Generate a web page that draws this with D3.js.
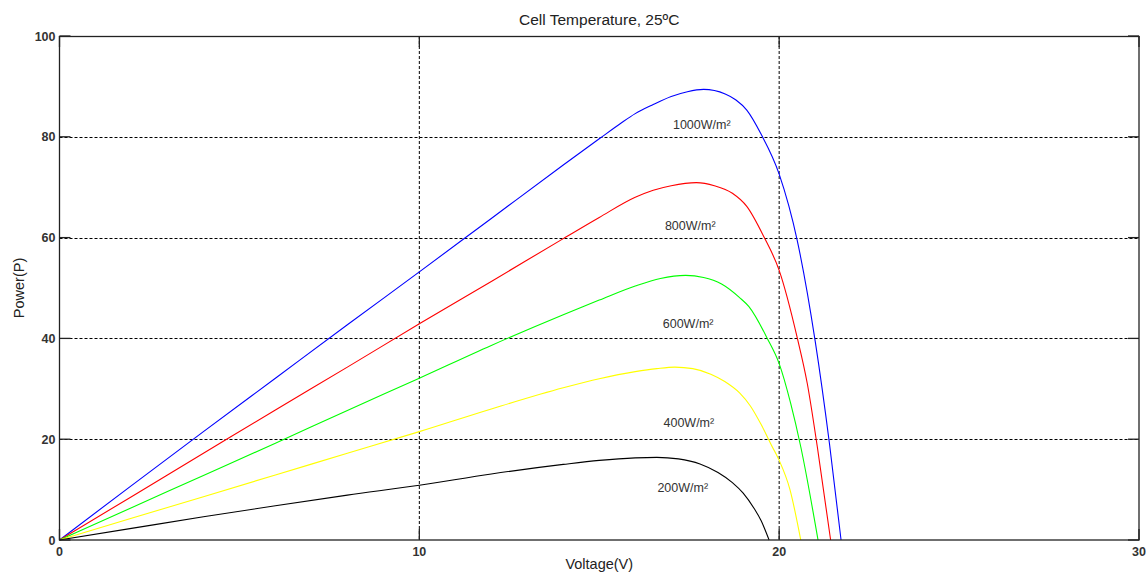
<!DOCTYPE html>
<html>
<head>
<meta charset="utf-8">
<script src="https://cdn.jsdelivr.net/npm/d3@7"></script>
<style>
  html, body { margin: 0; padding: 0; background: #fff; }
  svg { display: block; }
  text { font-family: "Liberation Sans", Arial, sans-serif; }
</style>
</head>
<body>
<svg id="chart" width="1146" height="579"></svg>
<script>
// ---- data ----
const title = "Cell Temperature, 25ºC";
const xLabel = "Voltage(V)";
const yLabel = "Power(P)";
const xTicks = [0, 10, 20, 30];
const yTicks = [0, 20, 40, 60, 80, 100];
const seriesNames = ["1000W/m²", "800W/m²", "600W/m²", "400W/m²", "200W/m²"];
const seriesColors = ["#0000ff", "#ff0000", "#00ff00", "#ffff00", "#000000"];

const volts1000 = [0, 2, 4, 6, 8, 10, 12, 14, 15, 15.6, 16, 16.5, 17, 17.45, 17.9, 18.5, 18.8, 19.1, 19.5, 20.0, 20.5, 21.0, 21.4, 21.72];
const power1000 = [0, 10.8, 21.5, 32.1, 42.7, 53.2, 63.8, 74.4, 79.6, 82.7, 84.6, 86.4, 88.0, 88.95, 89.4, 88.5, 87.3, 85.3, 80.5, 72.6, 59.5, 39.5, 19.0, 0];

const volts800 = [0, 2, 4, 6, 8, 10, 12, 14, 15, 16, 16.5, 17, 17.7, 18.2, 18.7, 19.1, 19.58, 20.0, 20.5, 20.78, 21.06, 21.43];
const power800 = [0, 8.6, 17.2, 25.8, 34.3, 42.9, 51.3, 59.8, 64.0, 68.0, 69.4, 70.3, 70.9, 70.3, 68.8, 66.2, 60.1, 53.5, 40.2, 31.1, 18.5, 0];

const volts600 = [0, 2, 4, 6, 8, 10, 12, 14, 15, 16, 16.7, 17.4, 17.9, 18.4, 18.9, 19.16, 19.67, 20.0, 20.32, 20.6, 21.08];
const power600 = [0, 6.4, 12.8, 19.2, 25.7, 32.1, 38.6, 44.7, 47.6, 50.4, 51.9, 52.5, 52.1, 50.8, 48.1, 46.3, 40.0, 35.0, 27.1, 18.5, 0];

const volts400 = [0, 2, 4, 6, 8, 10, 12, 14, 15, 16, 16.6, 17.1, 17.6, 18.1, 18.5, 18.9, 19.2, 19.5, 19.8, 20.0, 20.3, 20.6];
const power400 = [0, 4.3, 8.6, 12.9, 17.2, 21.5, 26.0, 30.2, 32.0, 33.4, 34.0, 34.3, 34.0, 32.9, 31.4, 29.2, 26.6, 22.9, 18.6, 15.8, 10.0, 0];

const volts200 = [0, 2, 4, 6, 8, 10, 12, 14, 15, 16, 16.6, 17.2, 17.8, 18.3, 18.7, 19.0, 19.3, 19.5, 19.72];
const power200 = [0, 2.3, 4.6, 6.8, 8.9, 10.85, 13.1, 15.0, 15.8, 16.3, 16.4, 16.1, 15.1, 13.4, 11.4, 9.3, 6.3, 3.8, 0];

// label anchor points (data units)
const labelVolts = [17.85, 17.53, 17.47, 17.49, 17.32];
const labelPower = [81.5, 61.5, 42.1, 22.5, 9.6];

const seriesVolts = [volts1000, volts800, volts600, volts400, volts200];
const seriesPower = [power1000, power800, power600, power400, power200];

// ---- layout ----
const svg = d3.select("#chart");
const mLeft = 59.5, mRight = 1139, mTop = 36, mBottom = 540;
const x = d3.scaleLinear().domain([0, 30]).range([mLeft, mRight]);
const y = d3.scaleLinear().domain([0, 100]).range([mBottom, mTop]);
const tickLen = 11;

// grid
const grid = svg.append("g");
grid.selectAll("line.gx").data(xTicks.filter(d => d > 0 && d < 30)).join("line")
  .attr("x1", d => x(d)).attr("x2", d => x(d))
  .attr("y1", mTop).attr("y2", mBottom)
  .attr("stroke", "#000").attr("stroke-width", 1).attr("stroke-dasharray", "3,2");
grid.selectAll("line.gy").data(yTicks.filter(d => d > 0 && d < 100)).join("line")
  .attr("x1", mLeft).attr("x2", mRight)
  .attr("y1", d => Math.round(y(d)) + 0.5).attr("y2", d => Math.round(y(d)) + 0.5)
  .attr("stroke", "#000").attr("stroke-width", 1).attr("stroke-dasharray", "3,2");

// curves
const line = d3.line().x(d => x(d[0])).y(d => y(d[1])).curve(d3.curveMonotoneX);
seriesNames.forEach((name, i) => {
  const pts = seriesVolts[i].map((v, k) => [v, seriesPower[i][k]]);
  svg.append("path").datum(pts)
    .attr("d", line)
    .attr("fill", "none")
    .attr("stroke", seriesColors[i])
    .attr("stroke-width", 1.1);
});

// labels
svg.selectAll("text.lbl").data(seriesNames).join("text")
  .attr("class", "lbl")
  .attr("x", (d, i) => x(labelVolts[i]))
  .attr("y", (d, i) => y(labelPower[i]))
  .attr("text-anchor", "middle")
  .attr("font-size", "12.5px")
  .attr("fill", "#333")
  .text(d => d);

// box
svg.append("rect")
  .attr("x", mLeft).attr("y", mTop + 0.5)
  .attr("width", mRight - mLeft).attr("height", mBottom - mTop - 0.5)
  .attr("fill", "none").attr("stroke", "#222").attr("stroke-width", 1.3);

// ticks (inside, all four sides)
const ticks = svg.append("g").attr("stroke", "#222").attr("stroke-width", 1.3);
xTicks.forEach(t => {
  ticks.append("line").attr("x1", x(t)).attr("x2", x(t)).attr("y1", mBottom).attr("y2", mBottom - tickLen);
  ticks.append("line").attr("x1", x(t)).attr("x2", x(t)).attr("y1", mTop).attr("y2", mTop + tickLen);
});
yTicks.forEach(t => {
  ticks.append("line").attr("x1", mLeft).attr("x2", mLeft + tickLen).attr("y1", y(t)).attr("y2", y(t));
  ticks.append("line").attr("x1", mRight).attr("x2", mRight - tickLen).attr("y1", y(t)).attr("y2", y(t));
});

// tick labels
svg.selectAll("text.xt").data(xTicks).join("text")
  .attr("class", "xt")
  .attr("x", d => x(d)).attr("y", 556)
  .attr("text-anchor", "middle")
  .attr("font-size", "12.5px").attr("font-weight", "bold").attr("fill", "#333")
  .text(d => d);
svg.selectAll("text.yt").data(yTicks).join("text")
  .attr("class", "yt")
  .attr("x", mLeft - 4).attr("y", d => y(d))
  .attr("dy", "0.36em")
  .attr("text-anchor", "end")
  .attr("font-size", "12.5px").attr("font-weight", "bold").attr("fill", "#333")
  .text(d => d);

// title & axis labels
svg.append("text").attr("x", (mLeft + mRight) / 2).attr("y", 25)
  .attr("text-anchor", "middle").attr("font-size", "15.5px").attr("fill", "#222")
  .text(title);
svg.append("text").attr("x", (mLeft + mRight) / 2).attr("y", 569)
  .attr("text-anchor", "middle").attr("font-size", "14.5px").attr("fill", "#222")
  .text(xLabel);
svg.append("text")
  .attr("transform", `translate(24,${(mTop + mBottom) / 2}) rotate(-90)`)
  .attr("text-anchor", "middle").attr("font-size", "14.5px").attr("fill", "#222")
  .text(yLabel);
</script>
</body>
</html>
